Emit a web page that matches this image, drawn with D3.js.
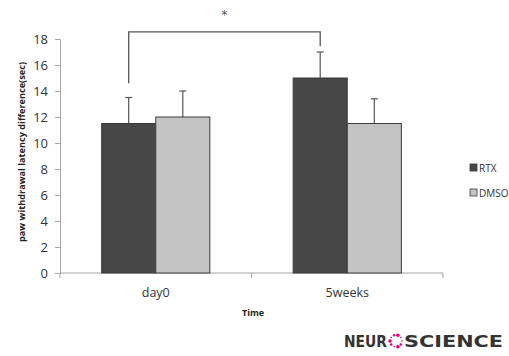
<html>
<head>
  <meta charset="utf-8" />
  <script src="https://cdnjs.cloudflare.com/ajax/libs/d3/7.8.5/d3.min.js"></script>
  <style>
    body { margin: 0; background: #fff; }
    svg { display: block; }
    .tick text { font-family: "Open Sans", sans-serif; font-size: 13px; fill: #333; }
    .tick line, path.domain { stroke: #a6a6a6; }
  </style>
</head>
<body>
  <svg></svg>
  <script>
  const categories = ["day0", "5weeks"];
  const series = ["RTX", "DMSO"];
  const rtxMean = [11.5, 15.0];
  const rtxErr = [2.0, 2.0];
  const dmsoMean = [12.0, 11.5];
  const dmsoErr = [2.0, 1.9];
  const yTicks = [0, 2, 4, 6, 8, 10, 12, 14, 16, 18];
  // significance bracket between RTX day0 and RTX 5weeks (in data units)
  const bracket = { top: 18.55, leftEnd: 14.6, rightEnd: 17.45, star: 20 };

  const colors = { RTX: "#474747", DMSO: "#c4c4c4" };
  const svg = d3.select("svg").attr("width", 509).attr("height", 356);

  const rows = categories.map((c, i) => ({
    cat: c,
    vals: [
      { s: "RTX", v: rtxMean[i], e: rtxErr[i] },
      { s: "DMSO", v: dmsoMean[i], e: dmsoErr[i] }
    ]
  }));

  const x0 = d3.scaleBand().domain(categories).range([60, 443]).paddingInner(0).paddingOuter(0);
  const x1 = d3.scaleBand().domain(series).range([0, x0.bandwidth()]).paddingInner(0).paddingOuter(0.77);
  const y = d3.scaleLinear().domain([0, 18]).range([273, 39]);

  // axes
  svg.append("g")
    .attr("transform", "translate(60,0)")
    .call(d3.axisLeft(y).tickValues(yTicks).tickSize(5).tickPadding(7))
    .call(g => g.selectAll(".tick text").attr("dy", "0.36em"));

  const xAxis = svg.append("g").attr("transform", "translate(0,273)");
  xAxis.append("line").attr("x1", 60).attr("x2", 443).attr("stroke", "#a6a6a6");
  xAxis.selectAll("line.tk")
    .data([60, x0(categories[1]), 443])
    .enter().append("line")
      .attr("class", "tk")
      .attr("x1", d => d).attr("x2", d => d)
      .attr("y1", 0).attr("y2", 5)
      .attr("stroke", "#a6a6a6");
  xAxis.selectAll("text")
    .data(categories)
    .enter().append("text")
      .attr("x", d => x0(d) + x0.bandwidth() / 2)
      .attr("y", 24)
      .attr("text-anchor", "middle")
      .style("font-family", "'Open Sans', sans-serif")
      .style("font-size", "12.5px")
      .style("fill", "#333")
      .text(d => d);

  // bars
  const groups = svg.selectAll("g.grp")
    .data(rows)
    .enter().append("g")
      .attr("class", "grp")
      .attr("transform", d => `translate(${x0(d.cat)},0)`);

  groups.selectAll("line.err")
    .data(d => d.vals)
    .enter().append("line")
      .attr("class", "err")
      .attr("x1", d => x1(d.s) + x1.bandwidth() / 2)
      .attr("x2", d => x1(d.s) + x1.bandwidth() / 2)
      .attr("y1", d => y(d.v))
      .attr("y2", d => y(d.v + d.e))
      .attr("stroke", "#555").attr("stroke-width", 1.2);

  groups.selectAll("line.cap")
    .data(d => d.vals)
    .enter().append("line")
      .attr("class", "cap")
      .attr("x1", d => x1(d.s) + x1.bandwidth() / 2 - 3.5)
      .attr("x2", d => x1(d.s) + x1.bandwidth() / 2 + 3.5)
      .attr("y1", d => y(d.v + d.e))
      .attr("y2", d => y(d.v + d.e))
      .attr("stroke", "#555").attr("stroke-width", 1.2);

  groups.selectAll("rect")
    .data(d => d.vals)
    .enter().append("rect")
      .attr("x", d => x1(d.s))
      .attr("y", d => y(d.v))
      .attr("width", x1.bandwidth())
      .attr("height", d => y(0) - y(d.v))
      .attr("fill", d => colors[d.s])
      .attr("stroke", "#3a3a3a")
      .attr("stroke-width", 1);

  // significance bracket
  const bx1 = x0(categories[0]) + x1("RTX") + x1.bandwidth() / 2;
  const bx2 = x0(categories[1]) + x1("RTX") + x1.bandwidth() / 2;
  svg.append("path")
    .attr("d", `M${bx1},${y(bracket.leftEnd)}V${y(bracket.top)}H${bx2}V${y(bracket.rightEnd)}`)
    .attr("fill", "none")
    .attr("stroke", "#555")
    .attr("stroke-width", 1.3);
  svg.append("text")
    .attr("x", (bx1 + bx2) / 2)
    .attr("y", y(bracket.star) + 6)
    .attr("text-anchor", "middle")
    .style("font-family", "'DejaVu Sans', sans-serif")
    .style("font-size", "12px")
    .style("fill", "#555")
    .text("*");

  // axis titles
  svg.append("text")
    .attr("transform", "translate(25,152) rotate(-90)")
    .attr("text-anchor", "middle")
    .attr("textLength", 180)
    .attr("lengthAdjust", "spacingAndGlyphs")
    .style("font-family", "'Open Sans', sans-serif")
    .style("font-size", "9.5px")
    .style("font-weight", "bold")
    .style("fill", "#222")
    .text("paw withdrawal latency difference(sec)");

  svg.append("text")
    .attr("x", 253)
    .attr("y", 316)
    .attr("text-anchor", "middle")
    .style("font-family", "'Open Sans', sans-serif")
    .style("font-size", "9px")
    .style("font-weight", "bold")
    .style("fill", "#222")
    .text("Time");

  // legend
  const legend = svg.selectAll("g.leg")
    .data(series)
    .enter().append("g")
      .attr("class", "leg")
      .attr("transform", (d, i) => `translate(470,${164 + i * 25})`);
  legend.append("rect")
    .attr("width", 7).attr("height", 7)
    .attr("fill", d => colors[d])
    .attr("stroke", "#3a3a3a").attr("stroke-width", 0.8);
  legend.append("text")
    .attr("x", 9).attr("y", 7.5)
    .style("font-family", "'Open Sans', sans-serif")
    .style("font-size", "10px")
    .style("fill", "#333")
    .text(d => d);

  // logo
  const logo = svg.append("g").attr("transform", "translate(344,347)");
  logo.append("text")
    .attr("x", 0).attr("y", 0)
    .attr("textLength", 43).attr("lengthAdjust", "spacingAndGlyphs")
    .style("font-family", "'DejaVu Sans', sans-serif")
    .style("font-size", "16.5px")
    .style("font-weight", "600")
    .style("fill", "#333")
    .text("NEUR");
  logo.append("text")
    .attr("x", 60).attr("y", 0)
    .attr("textLength", 99).attr("lengthAdjust", "spacingAndGlyphs")
    .style("font-family", "'DejaVu Sans', sans-serif")
    .style("font-size", "16.5px")
    .style("font-weight", "600")
    .style("fill", "#333")
    .text("SCIENCE");
  const dots = d3.range(10).map(i => ({ a: i / 10 * 2 * Math.PI, r: 0.8 + (i % 3) * 0.5 }));
  logo.selectAll("circle")
    .data(dots)
    .enter().append("circle")
      .attr("cx", d => 52 + 6 * Math.cos(d.a))
      .attr("cy", d => -6 + 6 * Math.sin(d.a))
      .attr("r", d => d.r)
      .attr("fill", "#e4007f");
  </script>
</body>
</html>
